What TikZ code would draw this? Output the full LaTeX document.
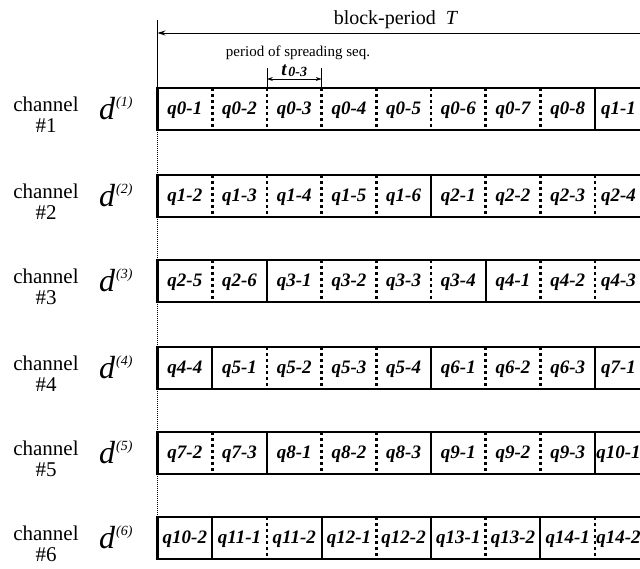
\documentclass[tikz,border=0pt]{standalone}
\usepackage{fontspec}
\newfontfamily\tms{Liberation Serif}
\usetikzlibrary{arrows.meta}
\tikzset{
  boxline/.style={line width=2.6pt},
  S/.style={line width=2pt},
  D/.style={line width=2.6pt, dash pattern=on 3.2pt off 2.8pt},
  guide/.style={line width=0.8pt},
  guidedot/.style={line width=0.9pt, dash pattern=on 1pt off 1pt},
  cell/.style={inner sep=0pt, font=\tms\fontsize{19}{19}\selectfont\bfseries\itshape},
  chan/.style={inner sep=0pt, font=\tms\fontsize{21}{21}\selectfont},
  toptext/.style={inner sep=0pt, font=\tms\fontsize{20}{20}\selectfont},
  smalltext/.style={inner sep=0pt, font=\tms\fontsize{15}{15}\selectfont},
}
\begin{document}
\begin{tikzpicture}[x=1pt,y=-1pt]
\useasboundingbox (0,0) rectangle (640,569);
\clip (0,0) rectangle (640,569);
\def\xl{157.5}
\def\cw{54.7}
\def\bh{42}
% top annotation
\coordinate (vtop) at (\xl,20);
\coordinate (Tl) at (\xl,33);
\coordinate (Tr) at (645,33);
\draw[guide, -{Stealth[length=8pt,width=5pt]}] (Tr) -- (Tl);
\node[toptext] (bp) at (396,20) {block-period\ \ \textit{T}};
\node[smalltext] (pss) at (298,53) {period of spreading seq.};
\coordinate (ta1) at ({\xl+2*\cw},68);
\coordinate (ta2) at ({\xl+3*\cw},68);
\coordinate (tb1) at ({\xl+2*\cw},88);
\coordinate (tb2) at ({\xl+3*\cw},88);
\draw[guide] (ta1) -- (tb1);
\draw[guide] (ta2) -- (tb2);
\coordinate (tm1) at ({\xl+2*\cw},79);
\coordinate (tm2) at ({\xl+3*\cw},79);
\draw[guide, {Stealth[length=6pt,width=4pt]}-{Stealth[length=6pt,width=4pt]}] (tm1) -- (tm2);
\node[inner sep=0pt] (tlab) at ({\xl+2.5*\cw},70.5) {{\tms\fontsize{19}{19}\selectfont\bfseries\itshape t}\,\raisebox{-1.5pt}{\tms\fontsize{14}{14}\selectfont\bfseries\itshape 0-3}};
\coordinate (r1top) at (\xl,88);
\draw[guide] (vtop) -- (r1top);
% rows
\foreach \r/\top/\labs/\seps in {
 1/88/{q0-1,q0-2,q0-3,q0-4,q0-5,q0-6,q0-7,q0-8,q1-1}/{D,D,D,D,D,D,D,S},
 2/175/{q1-2,q1-3,q1-4,q1-5,q1-6,q2-1,q2-2,q2-3,q2-4}/{D,D,D,D,S,D,D,D},
 3/260/{q2-5,q2-6,q3-1,q3-2,q3-3,q3-4,q4-1,q4-2,q4-3}/{D,S,D,D,D,S,D,D},
 4/347/{q4-4,q5-1,q5-2,q5-3,q5-4,q6-1,q6-2,q6-3,q7-1}/{S,D,D,D,S,D,D,S},
 5/432/{q7-2,q7-3,q8-1,q8-2,q8-3,q9-1,q9-2,q9-3,q10-1}/{D,S,D,D,S,D,D,S},
 6/517/{q10-2,q11-1,q11-2,q12-1,q12-2,q13-1,q13-2,q14-1,q14-2}/{S,D,S,D,S,D,S,D}}{
  \pgfmathsetmacro{\bot}{\top+\bh}
  \pgfmathsetmacro{\mid}{\top+\bh/2}
  \coordinate (row\r tl) at (\xl,\top);
  \coordinate (row\r br) at (660,\bot);
  \foreach \l [count=\c from 0] in \labs {
    \pgfmathsetmacro{\cx}{\c<8 ? \xl+(\c+0.5)*\cw : 618.5}
    \node[cell] (cell-\r-\c) at (\cx,{\mid+1}) {\l};
  }
  \foreach \s [count=\k from 1] in \seps {
    \coordinate (s\r a\k) at ({\xl+\k*\cw},\top);
    \coordinate (s\r b\k) at ({\xl+\k*\cw},\bot);
    \draw[\s] (s\r a\k) -- (s\r b\k);
  }
  \draw[boxline] (row\r tl) rectangle (row\r br);
  \node[chan] (ch\r) at (46,{\mid-5}) {channel};
  \node[chan] (num\r) at (46,{\mid+17}) {\#\r};
  \node[inner sep=0pt, anchor=west] (d\r) at (99,{\mid-1}) {{\tms\itshape\fontsize{32}{32}\selectfont d}\kern1pt\raisebox{13pt}{\tms\itshape\fontsize{14}{14}\selectfont(\r)}};
}
% dotted guide between rows
\foreach \a/\b in {1/2,2/3,3/4,4/5,5/6}{
  \draw[guidedot] (row\a tl |- s\a b1) -- (row\b tl);
}
\end{tikzpicture}
\end{document}
